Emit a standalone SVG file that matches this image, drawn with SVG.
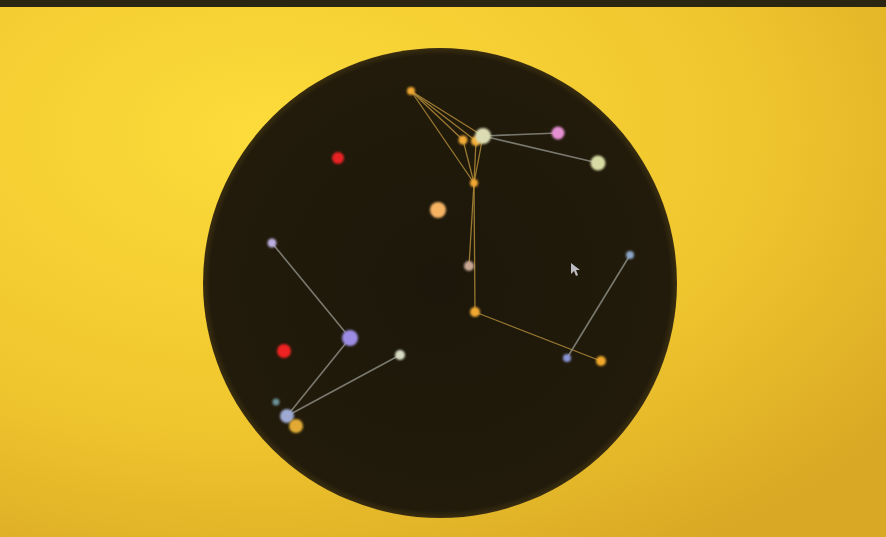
<svg xmlns="http://www.w3.org/2000/svg" width="886" height="537" viewBox="0 0 886 537">
<defs>
<radialGradient id="bg" cx="0.3" cy="0.25" r="0.9">
<stop offset="0" stop-color="#fcdc3a"/>
<stop offset="0.6" stop-color="#f0c62e"/>
<stop offset="1" stop-color="#d9a824"/>
</radialGradient>
<radialGradient id="disc" cx="0.5" cy="0.5" r="0.5">
<stop offset="0" stop-color="#1c170a"/>
<stop offset="0.97" stop-color="#221b0b"/>
<stop offset="1" stop-color="#3a2e10"/>
</radialGradient>
<filter id="soft" x="-50%" y="-50%" width="200%" height="200%"><feGaussianBlur stdDeviation="0.8"/></filter>
</defs>
<style>
.eo{stroke:#b08a38;stroke-width:1.3;opacity:0.85;fill:none}
.eg{stroke:#8a8a80;stroke-width:1.6;opacity:0.85;fill:none}
.n{filter:url(#soft)}
</style>
<rect width="886" height="537" fill="url(#bg)"/>
<rect width="886" height="7" fill="#2b2612"/>
<ellipse cx="440" cy="283" rx="237" ry="235" fill="url(#disc)"/>
<g id="connectors">
<line class="eo" x1="411" y1="91" x2="483" y2="136"/>
<line class="eo" x1="411" y1="91" x2="476" y2="141"/>
<line class="eo" x1="411" y1="91" x2="463" y2="140"/>
<line class="eo" x1="411" y1="91" x2="474" y2="183"/>
<line class="eo" x1="463" y1="140" x2="474" y2="183"/>
<line class="eo" x1="476" y1="141" x2="474" y2="183"/>
<line class="eo" x1="483" y1="136" x2="474" y2="183"/>
<line class="eo" x1="474" y1="183" x2="469" y2="266"/>
<line class="eo" x1="474" y1="183" x2="475" y2="312"/>
<line class="eo" x1="475" y1="312" x2="601" y2="361"/>
<line class="eg" x1="483" y1="136" x2="558" y2="133"/>
<line class="eg" x1="483" y1="136" x2="598" y2="163"/>
<line class="eg" x1="630" y1="255" x2="567" y2="358"/>
<line class="eg" x1="272" y1="243" x2="350" y2="338"/>
<line class="eg" x1="350" y1="338" x2="287" y2="416"/>
<line class="eg" x1="287" y1="416" x2="400" y2="355"/>
</g>
<g id="nA" class="n"><circle cx="411" cy="91" r="4" fill="#f0a830"/></g>
<g id="nB" class="n"><circle cx="463" cy="140" r="4.5" fill="#f2ac34"/></g>
<g id="nC" class="n"><circle cx="476" cy="141" r="5" fill="#f4b03a"/></g>
<g id="nD" class="n"><circle cx="483" cy="136" r="8" fill="#dcdcb4"/></g>
<g id="nE" class="n"><circle cx="558" cy="133" r="6.5" fill="#e690d4"/></g>
<g id="nF" class="n"><circle cx="598" cy="163" r="7.5" fill="#d8dca4"/></g>
<g id="nG" class="n"><circle cx="474" cy="183" r="4" fill="#f0a830"/></g>
<g id="nH" class="n"><circle cx="338" cy="158" r="6" fill="#e82424"/></g>
<g id="nI" class="n"><circle cx="438" cy="210" r="8" fill="#f6b464"/></g>
<g id="nJ" class="n"><circle cx="469" cy="266" r="5" fill="#c8a894"/></g>
<g id="nK" class="n"><circle cx="475" cy="312" r="5" fill="#f0a830"/></g>
<g id="nL" class="n"><circle cx="630" cy="255" r="4" fill="#8aa4c8"/></g>
<g id="nM" class="n"><circle cx="567" cy="358" r="4" fill="#8a94d4"/></g>
<g id="nN" class="n"><circle cx="601" cy="361" r="5" fill="#f0a82c"/></g>
<g id="nO" class="n"><circle cx="272" cy="243" r="4.5" fill="#bcaee0"/></g>
<g id="nP" class="n"><circle cx="350" cy="338" r="8" fill="#9c8ce4"/></g>
<g id="nQ" class="n"><circle cx="284" cy="351" r="7" fill="#ee2420"/></g>
<g id="nR" class="n"><circle cx="400" cy="355" r="5" fill="#d8dcc4"/></g>
<g id="nS" class="n"><circle cx="276" cy="402" r="3.5" fill="#6a9098"/></g>
<g id="nT" class="n"><circle cx="287" cy="416" r="7" fill="#9eaad4"/></g>
<g id="nU" class="n"><circle cx="296" cy="426" r="7" fill="#e2aa34"/></g>
<path d="M571 263 L571 274 L574 271 L576 276 L578 275 L576 270 L580 270 Z" fill="#d8d8e0" opacity="0.85"/>
</svg>
